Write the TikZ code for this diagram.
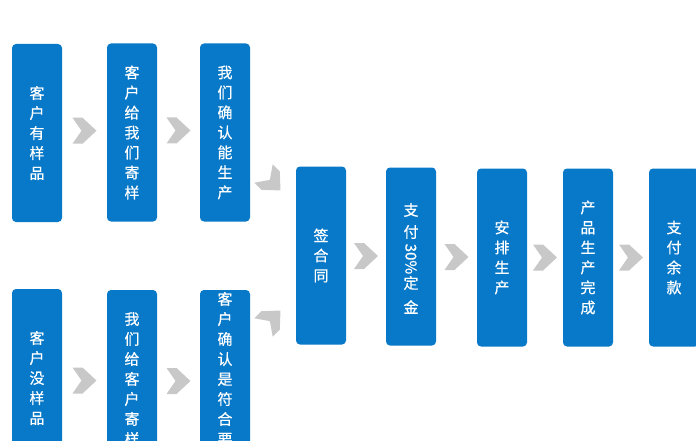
\documentclass[tikz,border=0pt]{standalone}
\usepackage{fontspec}
\usepackage{tikz}
\usetikzlibrary{calc}
\newfontfamily\cjk[FakeBold=0.6]{Noto Sans CJK SC}
\definecolor{flowBlue}{RGB}{8,120,200}
\definecolor{flowGray}{RGB}{200,200,200}

\tikzset{
  stepbox/.style={fill=flowBlue,rounded corners=4pt,minimum width=50pt,minimum height=178pt,
    text=white,align=center,inner sep=0pt,font=\cjk\fontsize{15}{20}\selectfont},
  steptxt/.style={text=white,inner sep=0pt,font=\cjk\fontsize{15}{20}\selectfont},
  chev/.pic={\fill[flowGray] (-12,13) -- (-2,13) -- (12,0) -- (-2,-13) -- (-12,-13) -- (-3,0) -- cycle;}
}

\begin{document}
\begin{tikzpicture}[x=1pt,y=-1pt]
		\useasboundingbox (0,0) rectangle (696,441);
		\clip (0,0) rectangle (696,441);
		
		% Upper branch
		\node[stepbox] (b1) at (37,133) {客\\户\\有\\样\\品};
		\node[stepbox] (b2) at (132,132.5) {客\\户\\给\\我\\们\\寄\\样};
		\node[stepbox] (b3) at (225,132.5) {我\\们\\确\\认\\能\\生\\产};
		
		% Lower branch
		\node[stepbox] (b4) at (37,378) {客\\户\\没\\样\\品};
		\node[stepbox] (b5) at (132,379) {我\\们\\给\\客\\户\\寄\\样};
		\node[stepbox] (b6) at (225,379) {客\\户\\确\\认\\是\\符\\合\\要\\求};
		
		% Common steps
		\node[stepbox] (b7) at (321,255.5) {签\\合\\同};
		\node[stepbox] (b8) at (411,256.5) {};
		\node[stepbox] (b9) at (502,257.5) {安\\排\\生\\产};
		\node[stepbox] (b10) at (588,257.5) {产\\品\\生\\产\\完\\成};
		\node[stepbox] (b11) at (674,257.5) {支\\付\\余\\款};
		
		% Text of b8
		\node[steptxt] (b8a) at (411,210) {支};
		\node[steptxt] (b8b) at (411,232) {付};
		\node[steptxt,rotate=-90] (b8c) at (411,259) {30\%};
		\node[steptxt] (b8d) at (411,283) {定};
		\node[steptxt] (b8e) at (411,307) {金};
		
		% Chevrons
		\pic at ($(b1.east)!0.5!(b2.west)+(0,-2)$) {chev};
		\pic at ($(b2.east)!0.5!(b3.west)+(0,-2)$) {chev};
		\pic at ($(b4.east)!0.5!(b5.west)+(0,2)$) {chev};
		\pic at ($(b5.east)!0.5!(b6.west)+(0,2)$) {chev};
		\coordinate (j1) at (272,182);
		\coordinate (j2) at (272,319);
		\pic[rotate=-45] at (j1) {chev};
		\pic[rotate=45] at (j2) {chev};
		\pic at ($(b7.east)!0.5!(b8.west)$) {chev};
		\pic at ($(b8.east)!0.5!(b9.west)$) {chev};
		\pic at ($(b9.east)!0.5!(b10.west)$) {chev};
		\pic at ($(b10.east)!0.5!(b11.west)$) {chev};
	\end{tikzpicture}
\end{document}
